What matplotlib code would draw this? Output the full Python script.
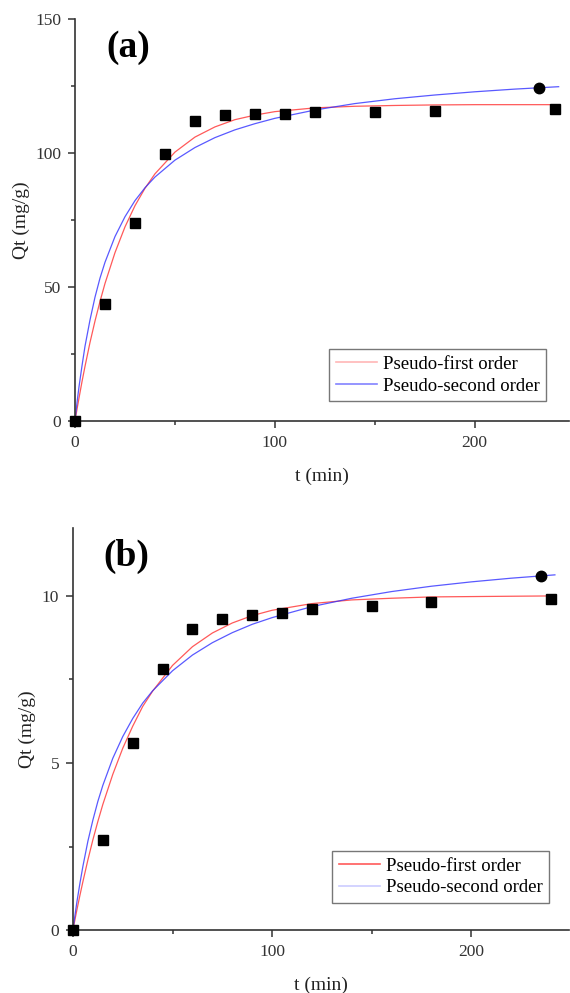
import matplotlib
matplotlib.use("Agg")
import matplotlib.pyplot as plt

plt.rcParams['font.family'] = ['Liberation Serif', 'DejaVu Serif']

# ---- panel (a) data ----
t_a = [0, 15, 30, 45, 60, 75, 90, 105, 120, 150, 180, 240]
q_a = [0, 43.6, 74.0, 99.6, 112.0, 114.2, 114.4, 114.6, 115.2, 115.4, 115.8, 116.4]
t_a_end = [232]
q_a_end = [124.4]

# fitted curves
t_fit = [0, 1, 2, 3.5, 5, 7.5, 10, 12.5, 15, 20, 25, 30, 35, 40, 50, 60, 70, 80, 90, 100,
         120, 140, 160, 180, 200, 220, 242]
pfo_a = [0, 4.4, 8.6, 14.7, 20.4, 29.3, 37.3, 44.6, 51.3, 62.8, 72.4, 80.3, 86.8, 92.2,
         100.3, 105.9, 109.7, 112.4, 114.1, 115.4, 116.8, 117.4, 117.7, 117.9, 118.0,
         118.0, 118.0]
pso_a = [0, 6.9, 12.8, 20.6, 27.9, 37.7, 46.2, 53.3, 59.2, 68.8, 76.2, 82.2, 87.0, 91.0,
         97.3, 102.0, 105.7, 108.6, 110.9, 112.9, 116.0, 118.4, 120.2, 121.6, 122.8,
         123.8, 124.7]

# ---- panel (b) data ----
t_b = [0, 15, 30, 45, 60, 75, 90, 105, 120, 150, 180, 240]
q_b = [0, 2.7, 5.61, 7.80, 9.02, 9.32, 9.42, 9.50, 9.61, 9.71, 9.81, 9.91]
t_b_end = [235]
q_b_end = [10.6]

pfo_b = [0, 0.31, 0.61, 1.04, 1.45, 2.10, 2.70, 3.25, 3.76, 4.66, 5.44, 6.10, 6.69, 7.15,
         7.92, 8.48, 8.89, 9.19, 9.41, 9.57, 9.77, 9.88, 9.93, 9.97, 9.98, 9.99, 10.0]
pso_b = [0, 0.44, 0.85, 1.40, 1.91, 2.66, 3.29, 3.85, 4.33, 5.14, 5.79, 6.33, 6.79, 7.16,
         7.76, 8.23, 8.60, 8.90, 9.15, 9.35, 9.68, 9.93, 10.13, 10.29, 10.42, 10.53, 10.63]

fig = plt.figure(figsize=(5.7, 9.93), dpi=100)

panels = [
    dict(pos=[0.1316, 0.576, 0.866, 0.405], t=t_a, q=q_a, te=t_a_end, qe=q_a_end,
         pfo=pfo_a, pso=pso_a, ylim=(0, 150), xlim=(0, 247),
         yt=[0, 50, 100, 150], ym=[25, 75, 125], tag="(a)",
         leg=(0.515, 0.179), pfo_leg_alpha=0.35, pso_leg_alpha=0.6),
    dict(pos=[0.128, 0.0634, 0.870, 0.4048], t=t_b, q=q_b, te=t_b_end, qe=q_b_end,
         pfo=pfo_b, pso=pso_b, ylim=(0, 12.03), xlim=(0, 249),
         yt=[0, 5, 10], ym=[2.5, 7.5], tag="(b)",
         leg=(0.523, 0.197), pfo_leg_alpha=0.8, pso_leg_alpha=0.25),
]

for p in panels:
    ax = fig.add_axes(p["pos"])
    ax.plot(t_fit, p["pfo"], color="#ff3030", lw=0.9, alpha=0.8)
    ax.plot(t_fit, p["pso"], color="#3030ff", lw=0.9, alpha=0.8)
    ax.plot(p["t"], p["q"], "s", color="black", ms=6.5, clip_on=False, zorder=5)
    ax.plot(p["te"], p["qe"], "o", color="black", ms=7.5, zorder=5)

    # legend entries drawn as proxies (pale handles like the original)
    h1, = ax.plot([], [], color="#ff3030", lw=1.2, alpha=p["pfo_leg_alpha"])
    h2, = ax.plot([], [], color="#3030ff", lw=1.2, alpha=p["pso_leg_alpha"])
    leg = ax.legend([h1, h2], ["Pseudo-first order", "Pseudo-second order"],
                    loc="upper left", bbox_to_anchor=p["leg"], borderaxespad=0,
                    fontsize=13.5, frameon=True, fancybox=False, handlelength=2.2,
                    handletextpad=0.3, borderpad=0.35, labelspacing=0.25)
    leg.get_frame().set_edgecolor("#555555")
    leg.get_frame().set_linewidth(1.0)

    ax.set_xlim(*p["xlim"])
    ax.set_ylim(*p["ylim"])
    ax.set_xticks([0, 100, 200])
    ax.set_xticks([50, 150], minor=True)
    ax.set_yticks(p["yt"])
    ax.set_yticks(p["ym"], minor=True)
    ax.tick_params(which="major", direction="out", length=5, width=1.1, pad=5,
                   labelsize=12.5, colors="#333333")
    ax.tick_params(which="minor", direction="out", length=3, width=1.1, colors="#333333")
    for s in ["top", "right"]:
        ax.spines[s].set_visible(False)
    for s in ["left", "bottom"]:
        ax.spines[s].set_linewidth(1.2)
        ax.spines[s].set_color("#333333")

    ax.set_xlabel("t (min)", fontsize=14, color="#222222", labelpad=12)
    ax.set_ylabel("Qt (mg/g)", fontsize=14, color="#222222", labelpad=4)
    ax.text(0.107, 0.93, p["tag"], transform=ax.transAxes, fontsize=27,
            fontweight="bold", ha="center", va="center")

fig.savefig("out.png", dpi=100)
